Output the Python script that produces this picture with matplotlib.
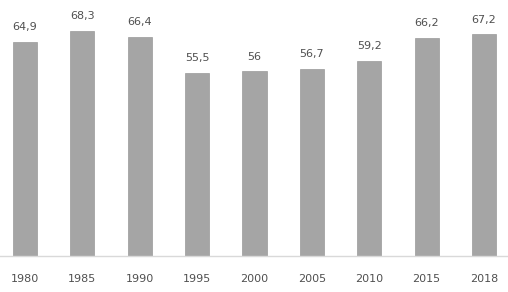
import matplotlib.pyplot as plt
import numpy as np

years = ["1980", "1985", "1990", "1995", "2000", "2005", "2010", "2015", "2018"]
values = [64.9, 68.3, 66.4, 55.5, 56.0, 56.7, 59.2, 66.2, 67.2]
labels = ["64,9", "68,3", "66,4", "55,5", "56", "56,7", "59,2", "66,2", "67,2"]

fig = plt.figure(figsize=(5.08, 2.92), dpi=100)
ax = fig.add_axes([0, 36 / 292, 1, 256 / 292])

x = np.arange(len(years))
bars = ax.bar(x, values, width=0.42, color="#a5a5a5", edgecolor="#9a9a9a", linewidth=0.5)

for xi, v, lab in zip(x, values, labels):
    ax.annotate(lab, (xi, v), xytext=(0, 7), textcoords="offset points",
                ha="center", va="bottom", fontsize=8, color="#505050")

ax.set_xlim(-0.435, 8.418)
ax.set_ylim(0, 77.6)
ax.set_xticks(x)
ax.set_xticklabels(years, fontsize=8, color="#505050")
ax.tick_params(axis="x", length=0, pad=13)
ax.set_yticks([])
for s in ["top", "left", "right"]:
    ax.spines[s].set_visible(False)
ax.spines["bottom"].set_color("#d9d9d9")
ax.spines["bottom"].set_linewidth(1)

fig.savefig("out.png", dpi=100)
